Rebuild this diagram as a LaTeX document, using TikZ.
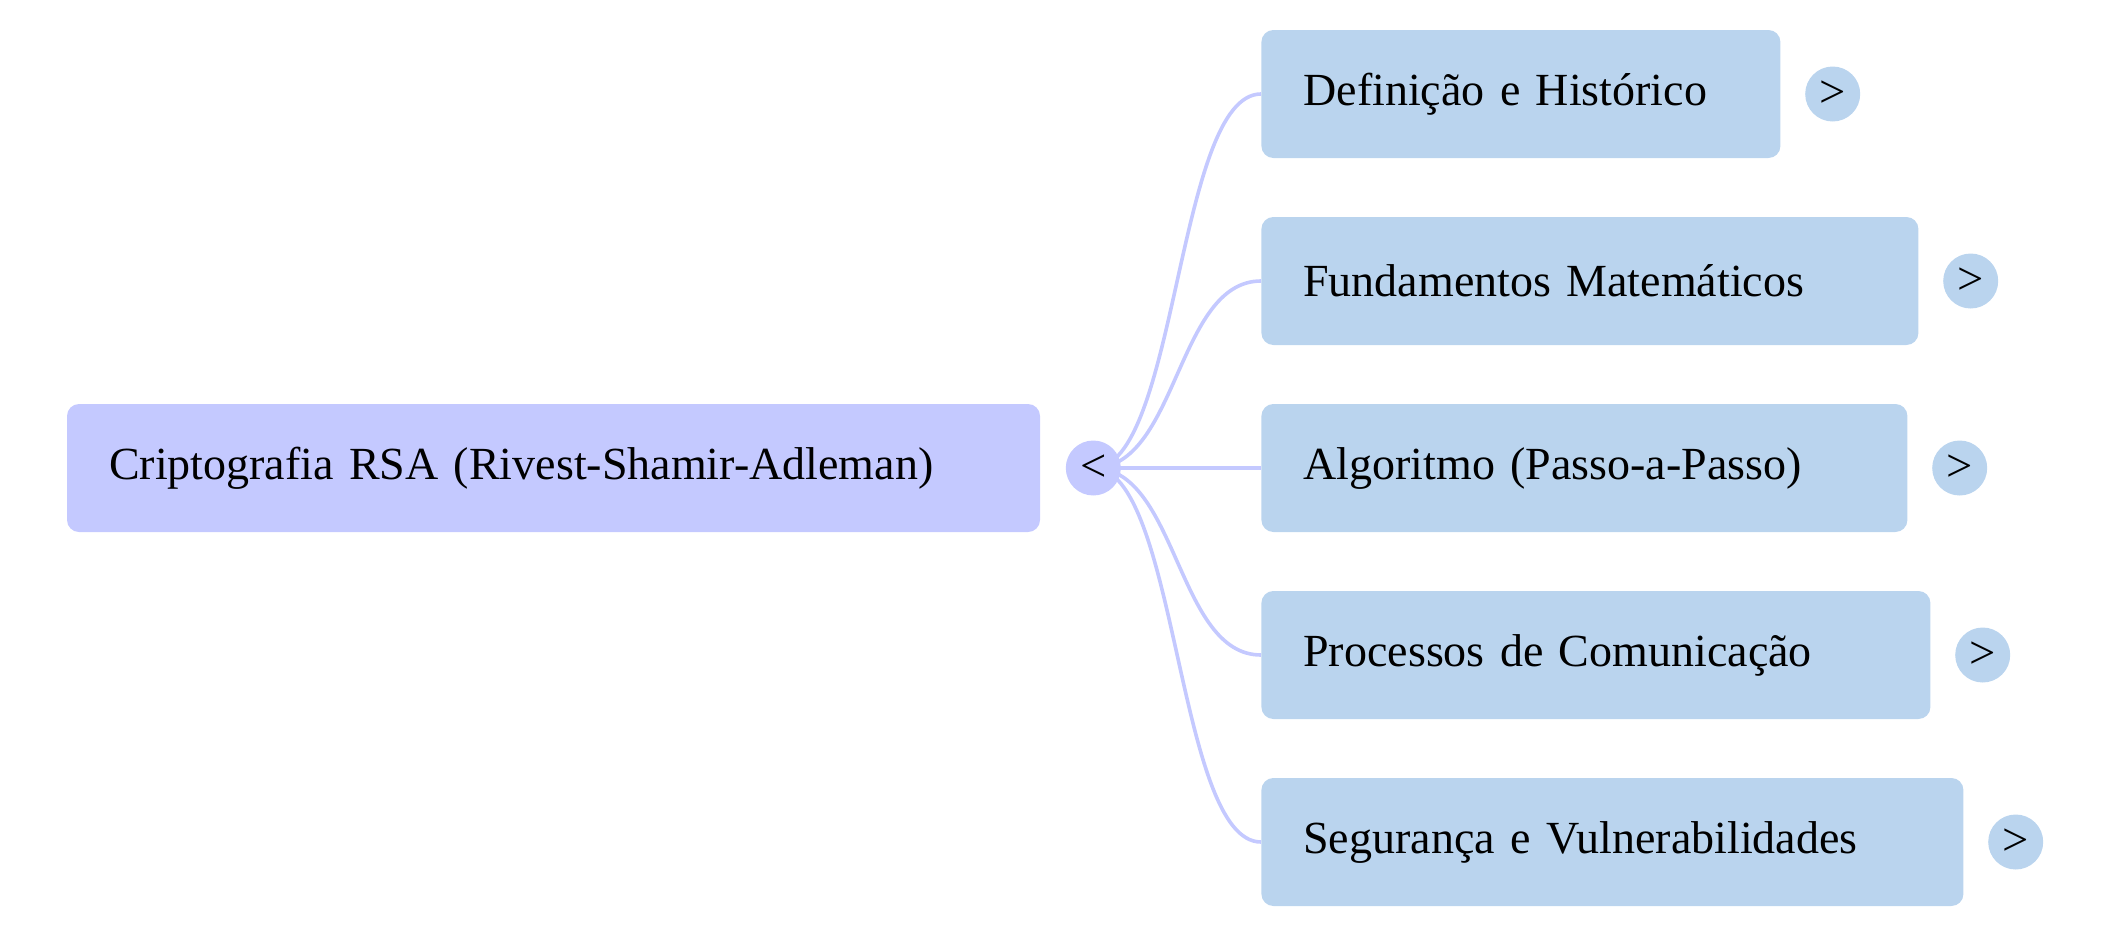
\documentclass[tikz,border=0pt]{standalone}
\usepackage{fontspec}
\setmainfont{Liberation Serif}
\usetikzlibrary{positioning, backgrounds}
\definecolor{rootfill}{HTML}{C4C9FF}
\definecolor{topicfill}{HTML}{BAD4EE}
\definecolor{branchline}{HTML}{C4C9FF}

\begin{document}
\begin{tikzpicture}[x=0.5pt, y=-0.5pt,
    box/.style={rounded corners=6pt, inner xsep=21pt, inner ysep=0pt, minimum height=64pt, align=left, font=\fontsize{23}{28}\selectfont},
    rootbox/.style={box, fill=rootfill},
    topicbox/.style={box, fill=topicfill},
    toggle/.style={circle, inner sep=0pt, minimum size=27.5pt, font=\fontsize{23.3}{28}\selectfont},
    branch/.style={draw=branchline, line width=1.8pt}]
    \useasboundingbox (0,0) rectangle (2110,937);
    % Root
    \node[rootbox, text width=444.5pt] (root) at (553.5,468) {Criptografia RSA (Rivest-Shamir-Adleman)};
    \node[toggle, fill=rootfill, right=12.5pt of root] (col) {<};
    % Topics
    \foreach \i/\y/\w/\txt in {1/94/519/Definição e Histórico,
                               2/281/657/Fundamentos Matemáticos,
                               3/468/646/Algoritmo (Passo-a-Passo),
                               4/655/669/Processos de Comunicação,
                               5/842/702/Segurança e Vulnerabilidades} {
        \pgfmathsetmacro\tw{(\w-84)/2}
        \node[topicbox, text width=\tw pt, anchor=west] (c\i) at (1261,\y) {\txt};
        \node[toggle, fill=topicfill, right=12pt of c\i] (e\i) {>};
    }
    % Branches
    \begin{scope}[on background layer]
        \foreach \i in {1,...,5} {
            \draw[branch] (col.center) .. controls +(84.5,0) and +(-84.5,0) .. (c\i.west);
        }
    \end{scope}
\end{tikzpicture}
\end{document}
